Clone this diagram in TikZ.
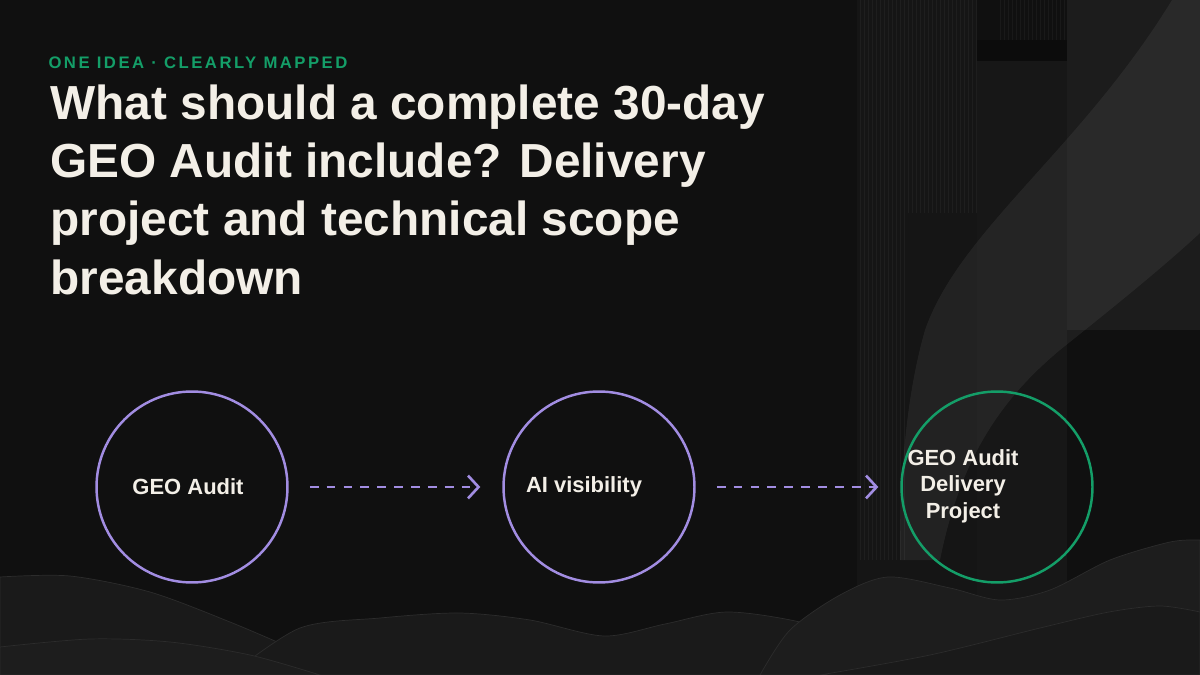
\documentclass[tikz,border=0pt]{standalone}
\usepackage{fontspec}
\setmainfont{Liberation Sans}
\usepackage{tikz}
\usetikzlibrary{
    arrows.meta,
    positioning
}
\definecolor{bgdark}{HTML}{101010}
\definecolor{lavender}{HTML}{A28DE2}
\definecolor{mint}{HTML}{149E68}
\definecolor{ivory}{HTML}{F3EFE7}
\definecolor{hillA}{HTML}{1A1A1A}
\definecolor{hillB}{HTML}{1D1D1D}
\definecolor{hilledge}{HTML}{2C2C2C}

\begin{document}
\begin{tikzpicture}[x=0.02cm,y=-0.02cm,>={Straight Barb[length=6pt,width=13pt]},semithick]
    \tikzstyle{ring}=[circle, draw=lavender, line width=1.4pt, minimum size=3.82cm, inner sep=0pt]
    \tikzstyle{ringgreen}=[ring, draw=mint]
    \tikzstyle{lbl}=[text=ivory, font=\fontsize{12.5}{15}\selectfont\bfseries, align=center, inner sep=0pt]
    \tikzstyle{flow}=[->, draw=lavender, line width=1.5pt, dash pattern=on 5pt off 4.6pt, shorten >=12.5pt, shorten <=12pt]
    \useasboundingbox (0,0) rectangle (1200,675);
    \fill[bgdark] (0,0) rectangle (1200,675);

    % backdrop on the right
    \fill[fill=white, fill opacity=0.025] (857,0) rectangle (977,675);
    \foreach \x in {860,864,...,976} \draw[white, opacity=0.04, line width=0.3pt] (\x,0) -- (\x,213);
    \foreach \x in {860,864,...,904} \draw[white, opacity=0.04, line width=0.3pt] (\x,213) -- (\x,560);
    \foreach \x in {1000,1004,...,1064} \draw[white, opacity=0.04, line width=0.3pt] (\x,0) -- (\x,40);
    \fill[black, opacity=0.2] (977,40) rectangle (1067,61);
    \fill[fill=white, fill opacity=0.03] (977,61) rectangle (1067,675);
    \fill[fill=white, fill opacity=0.05] (1067,0) rectangle (1200,330);
    \fill[fill=white, fill opacity=0.06] (1172,0) .. controls (1080,150) and (960,230) .. (925,330)
        .. controls (905,400) and (900,480) .. (900,560) -- (940,560)
        .. controls (960,460) and (1000,400) .. (1060,350) .. controls (1110,310) and (1160,270) .. (1200,233) -- (1200,0) -- cycle;

    % hills at the bottom
    \fill[hillA, draw=hilledge, line width=0.4pt] plot[smooth] coordinates {(0,577) (70,576) (150,592) (230,622) (300,652) (350,675)} -- (0,675) -- cycle;
    \fill[hillA, draw=hilledge, line width=0.4pt] plot[smooth] coordinates {(230,675) (300,628) (380,618) (459,613) (530,620) (604,636) (665,624) (727,612) (800,622) (860,642) (900,675)} -- cycle;
    \fill[hillB, draw=hilledge, line width=0.4pt] plot[smooth] coordinates {(760,675) (790,630) (840,595) (888,577) (950,588) (1000,600) (1050,590) (1110,560) (1170,542) (1200,540)} -- (1200,675) -- cycle;
    \fill[hillB, draw=hilledge, line width=0.4pt] plot[smooth] coordinates {(0,647) (90,639) (170,642) (250,655) (320,675)} -- (0,675) -- cycle;
    \fill[hillA, draw=hilledge, line width=0.4pt] plot[smooth] coordinates {(820,675) (930,655) (1040,628) (1109,612) (1160,606) (1200,612)} -- (1200,675) -- cycle;

    % heading
    \node [anchor=base west, inner sep=0pt, text=mint, font=\fontsize{9.5}{11}\selectfont\bfseries\addfontfeatures{LetterSpace=15}] (kicker) at (48,69) {ONE IDEA · CLEARLY MAPPED};
    \node [anchor=north west, inner sep=0pt, align=left, text=ivory, font=\fontsize{27.2}{33.2}\selectfont\bfseries] (title) at (50,84)
        {What should a complete 30-day\\ GEO Audit include? Delivery\\ project and technical scope\\ breakdown};

    % flow
    \node [ring] (audit) at (192,487) {};
    \node [ring] (visibility) at (599,487) {};
    \node [ringgreen] (delivery) at (997,487) {};
    \node [lbl] (auditlbl) at (188,487) {GEO Audit};
    \node [lbl] (visibilitylbl) at (584,487) {AI visibility};
    \node [lbl] (deliverylbl) at (963,486) {GEO Audit\\ Delivery\\ Project};

    \draw [flow] (audit) -- (visibility);
    \draw [flow] (visibility) -- (delivery);
\end{tikzpicture}
\end{document}
